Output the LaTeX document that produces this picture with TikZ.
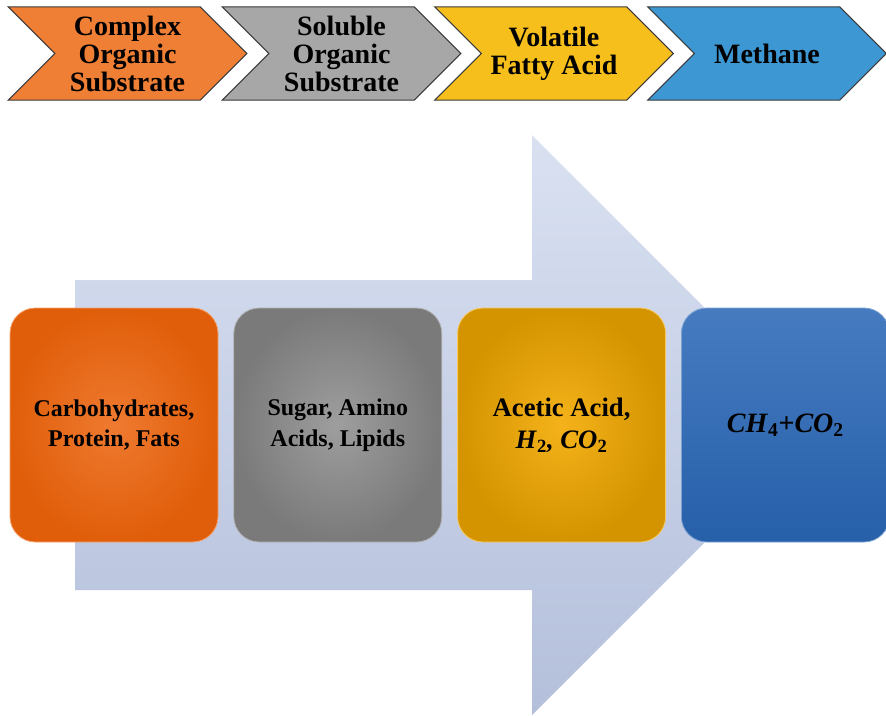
\documentclass[tikz,border=0pt]{standalone}
\usepackage{fontspec}
\setmainfont{Liberation Serif}
\usetikzlibrary{positioning,shapes.symbols}

\definecolor{stageline}{HTML}{3A3A3A}
\definecolor{orangestage}{HTML}{EF7F35}
\definecolor{graystage}{HTML}{A7A7A7}
\definecolor{yellowstage}{HTML}{F6BF1C}
\definecolor{bluestage}{HTML}{3C97D3}
\definecolor{arrowtop}{HTML}{D9E1F1}
\definecolor{arrowbottom}{HTML}{B4BFDB}
\definecolor{orangein}{HTML}{EF7A30}
\definecolor{orangeout}{HTML}{E05E0A}
\definecolor{grayin}{HTML}{9E9E9E}
\definecolor{grayout}{HTML}{7A7A7A}
\definecolor{yellowin}{HTML}{F5B21A}
\definecolor{yellowout}{HTML}{D39400}
\definecolor{bluetop}{HTML}{467BC0}
\definecolor{bluebottom}{HTML}{2660A9}

\tikzset{
    stage/.style={signal, signal from=west, signal to=east, signal pointer angle=90,
        draw=stageline, line width=0.8pt, minimum width=179pt, minimum height=70pt,
        inner sep=0pt, align=center, font=\fontsize{21}{21}\selectfont\bfseries},
    pool/.style={rectangle, rounded corners=19pt, minimum width=156pt, minimum height=175.5pt,
        inner sep=0pt, align=center, line width=0.6pt, font=\fontsize{18}{23}\selectfont\bfseries},
}

\begin{document}
\begin{tikzpicture}[x=0.75pt, y=-0.75pt]
    \useasboundingbox (0,0) rectangle (886,715);
    % stages
    \node [stage, fill=orangestage] (complex) at (127.5,53.5) {Complex\\Organic\\Substrate};
    \node [stage, fill=graystage] (soluble) at (341.5,53.5) {Soluble\\Organic\\Substrate};
    \node [stage, fill=yellowstage] (vfa) at (554,53.5) {Volatile\\Fatty Acid};
    \node [stage, fill=bluestage] (methane) at (767,53.5) {Methane};
    % big arrow behind the products
    \shade [top color=arrowtop, bottom color=arrowbottom]
        (75,280) -- (532,280) -- (532,135) -- (822,425) -- (532,715) -- (532,590) -- (75,590) -- cycle;
    % products
    \node [pool, inner color=orangein, outer color=orangeout, draw=orangein!70!white] (carb) at (114,425) {Carbohydrates,\\Protein, Fats};
    \node [pool, right=11.25pt of carb, inner color=grayin, outer color=grayout, draw=grayin!80!white] (sugar) {Sugar, Amino\\Acids, Lipids};
    \node [pool, right=11.25pt of sugar, inner color=yellowin, outer color=yellowout, draw=yellowin!70!white, font=\fontsize{20}{24}\selectfont\bfseries] (acetic) {Acetic Acid,\\\textit{H}\textsubscript{2}\textit{, CO}\textsubscript{2}};
    \node [pool, right=11.25pt of acetic, top color=bluetop, bottom color=bluebottom, draw=bluetop!70!white, font=\fontsize{21}{24}\selectfont\bfseries] (gas) {\textit{CH}\textsubscript{4}+\textit{CO}\textsubscript{2}};
\end{tikzpicture}
\end{document}
